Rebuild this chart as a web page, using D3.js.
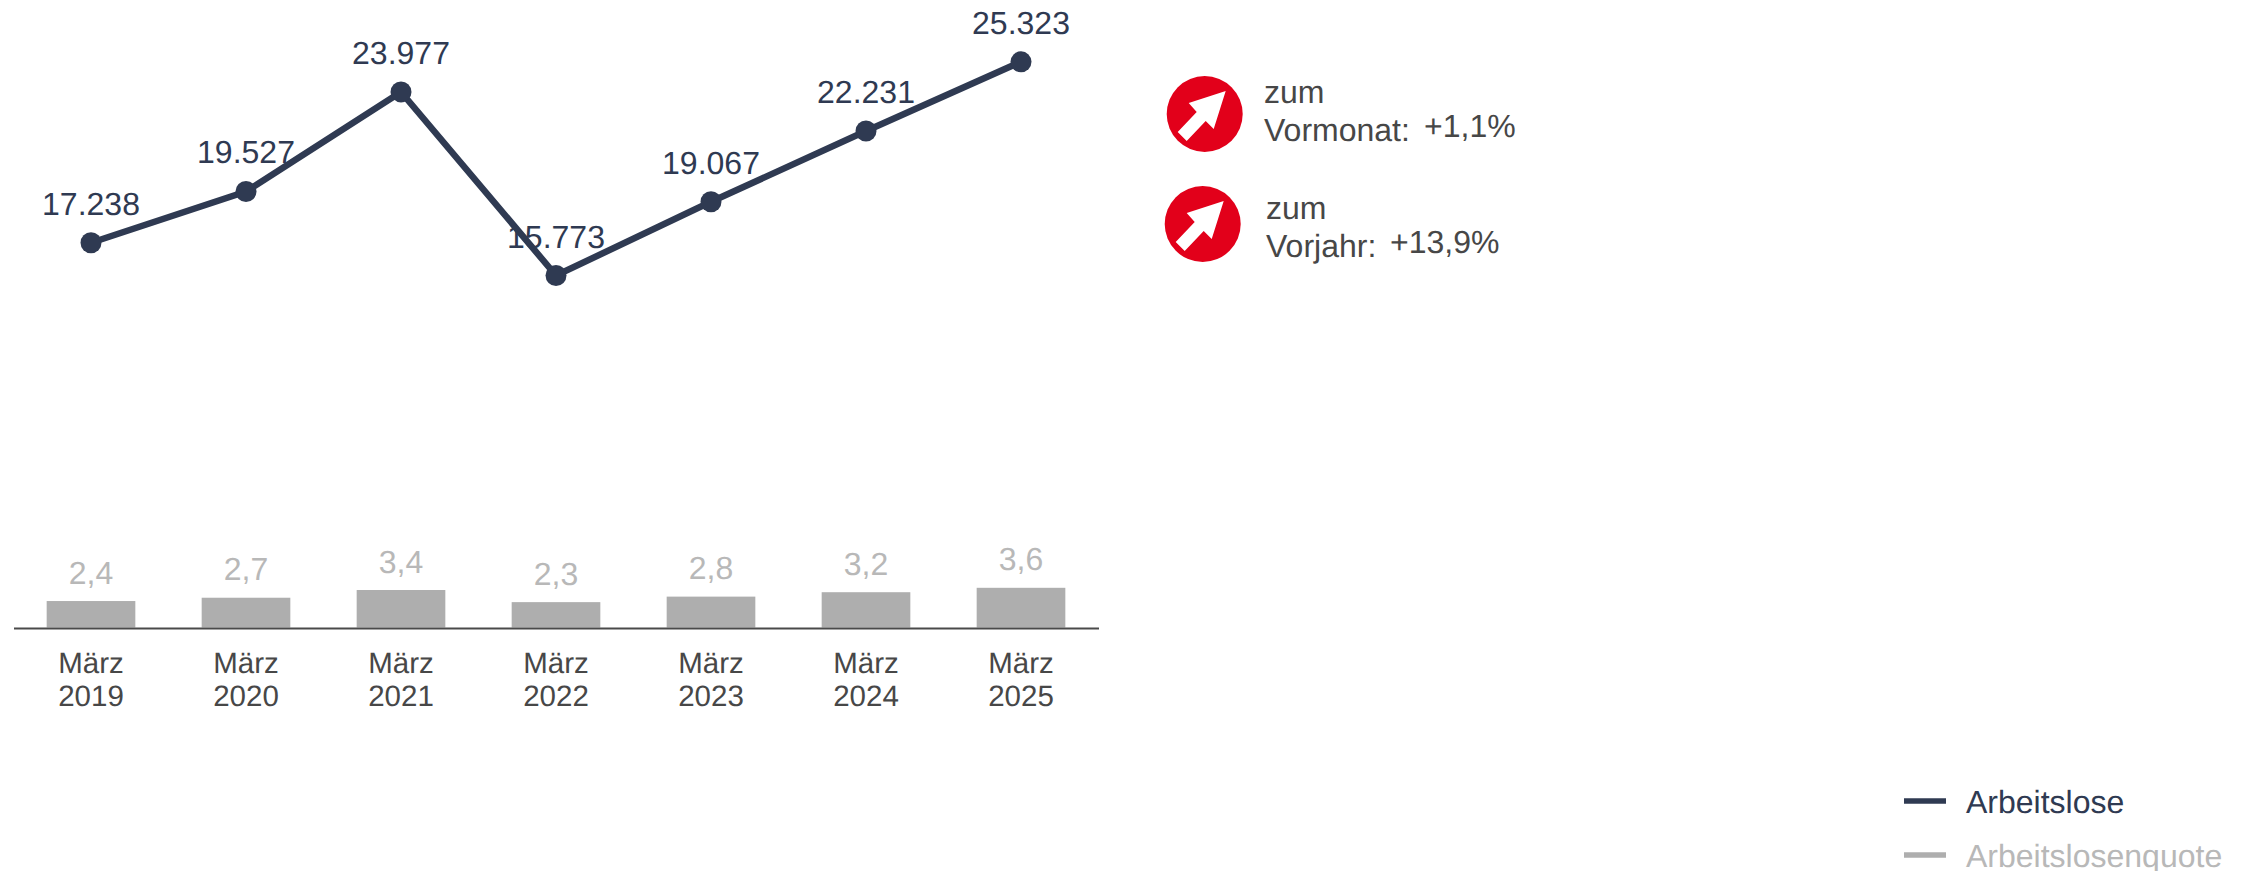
<!DOCTYPE html>
<html><head><meta charset="utf-8">
<script src="https://cdn.jsdelivr.net/npm/d3@7"></script>
<style>html,body{margin:0;padding:0;background:#fff}svg{display:block}text{font-family:"Liberation Sans",Arial,sans-serif;text-rendering:geometricPrecision}</style>
</head><body><svg id="c" width="2247" height="871"></svg>
<script>
const months = ["März","März","März","März","März","März","März"];
const years = ["2019","2020","2021","2022","2023","2024","2025"];
const arbeitslose = [17238,19527,23977,15773,19067,22231,25323];
const arbeitslosenLabels = ["17.238","19.527","23.977","15.773","19.067","22.231","25.323"];
const quote = [2.4,2.7,3.4,2.3,2.8,3.2,3.6];
const quoteLabels = ["2,4","2,7","3,4","2,3","2,8","3,2","3,6"];
const legendNames = ["Arbeitslose","Arbeitslosenquote"];

const DARK="#2f3a52", GREY="#aeaeae", LABELGREY="#b8b8b8", TXT="#474747", RED="#e2001a";
const svg=d3.select("#c");
const x=d3.scaleBand().domain(years).range([13.5,1098.5]).paddingInner(0.428).paddingOuter(0.214);
const cx=y=>x(y)+x.bandwidth()/2;
const yLine=d3.scaleLinear().domain([15773,25323]).range([275.5,61.8]);
const yBar=d3.scaleLinear().domain([0,3.6]).range([627.5,587.8]);

// bars
svg.selectAll("rect.bar").data(quote).join("rect").attr("class","bar")
 .attr("x",(d,i)=>x(years[i])).attr("width",x.bandwidth())
 .attr("y",d=>yBar(d)).attr("height",d=>yBar(0)-yBar(d)).attr("fill",GREY);
svg.selectAll("text.ql").data(quote).join("text").attr("class","ql")
 .attr("x",(d,i)=>cx(years[i])).attr("y",d=>yBar(d)-17.5)
 .attr("text-anchor","middle").attr("font-size",32).attr("fill",LABELGREY)
 .text((d,i)=>quoteLabels[i]);

// axis
const axis=d3.axisBottom(x).tickSize(0).tickFormat(()=>"");
const gAxis=svg.append("g").attr("transform","translate(0,628)").call(axis);
gAxis.select(".domain").attr("stroke","#4a4a4a").attr("stroke-width",2);
gAxis.selectAll(".tick text").remove();
gAxis.selectAll(".tick").each(function(d,i){
  const g=d3.select(this);
  g.append("text").attr("y",45).attr("text-anchor","middle").attr("font-size",29.5).attr("fill",TXT).text(months[i]);
  g.append("text").attr("y",77.5).attr("text-anchor","middle").attr("font-size",29.5).attr("fill",TXT).text(d);
});

// line
const line=d3.line().x((d,i)=>cx(years[i])).y(d=>yLine(d));
svg.append("path").datum(arbeitslose).attr("d",line).attr("fill","none").attr("stroke",DARK).attr("stroke-width",6.5);
svg.selectAll("circle.pt").data(arbeitslose).join("circle").attr("class","pt")
 .attr("cx",(d,i)=>cx(years[i])).attr("cy",d=>yLine(d)).attr("r",10.5).attr("fill",DARK);
svg.selectAll("text.al").data(arbeitslose).join("text").attr("class","al")
 .attr("x",(d,i)=>cx(years[i])).attr("y",d=>yLine(d)-28)
 .attr("text-anchor","middle").attr("font-size",32).attr("fill",DARK)
 .text((d,i)=>arbeitslosenLabels[i]);

// KPI badges
const arrowPath="M21,-23 L9,15 L1,7 L-18,27 L-27,18 L-8,-2 L-16,-11 Z";
function badge(cxp,cyp,line1,line2,val,tx,vx,y1,y2,y3){
  const g=svg.append("g").attr("transform",`translate(${cxp},${cyp})`);
  g.append("circle").attr("r",38).attr("fill",RED);
  g.append("path").attr("fill","#fff").attr("d",arrowPath);
  svg.append("text").attr("x",tx).attr("y",y1).attr("font-size",32).attr("fill",TXT).text(line1);
  svg.append("text").attr("x",tx).attr("y",y2).attr("font-size",32).attr("fill",TXT).text(line2);
  svg.append("text").attr("x",vx).attr("y",y3).attr("font-size",32).attr("fill",TXT).text(val);
}
badge(1204.7,114,"zum","Vormonat:","+1,1%",1264,1424,103,141,137);
badge(1202.7,224,"zum","Vorjahr:","+13,9%",1266,1390,219,257,253);

// legend
const legendY=[801,855], legendC=[DARK,GREY], legendT=[DARK,LABELGREY];
legendNames.forEach((n,i)=>{
  svg.append("line").attr("x1",1904).attr("x2",1946).attr("y1",legendY[i]).attr("y2",legendY[i]).attr("stroke",legendC[i]).attr("stroke-width",5.5);
  svg.append("text").attr("x",1966).attr("y",legendY[i]+12).attr("font-size",32).attr("fill",legendT[i]).text(n);
});
</script></body></html>
